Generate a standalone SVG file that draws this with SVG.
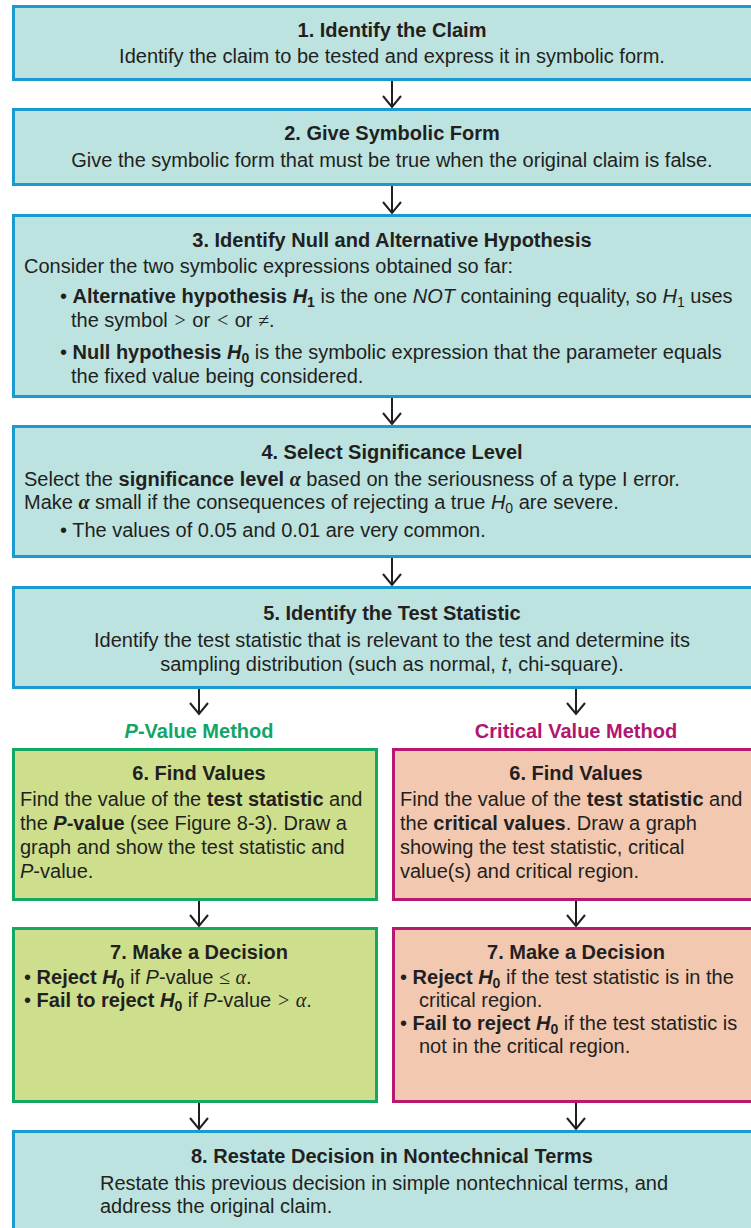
<svg xmlns="http://www.w3.org/2000/svg" width="751" height="1228" viewBox="0 0 751 1228">
<defs>
<style>
text{font-family:"Liberation Sans",Arial,sans-serif;font-size:20px;fill:#231f20}
.t{font-weight:bold;text-anchor:middle}
.c{text-anchor:middle}
.b{font-weight:bold}
.i{font-style:italic}
.bi{font-weight:bold;font-style:italic}
.m{font-family:"Liberation Serif",serif;font-style:italic}
.s{font-size:14px}
.blue{fill:#bce3e0;stroke:#1a9ad1;stroke-width:3}
.green{fill:#cddf8c;stroke:#15a862;stroke-width:3}
.pink{fill:#f2c8b0;stroke:#b8186f;stroke-width:3}
.arr{fill:none;stroke:#231f20;stroke-width:2}
</style>
</defs>
<g id="connectors">
<path class="arr" d="M392 81V107M383 96L392 107L401 96"/>
<path class="arr" d="M392 186V213M383 202L392 213L401 202"/>
<path class="arr" d="M392 398V424M383 413L392 424L401 413"/>
<path class="arr" d="M392 558V585M383 574L392 585L401 574"/>
<path class="arr" d="M199 689V714M190 703L199 714L208 703"/>
<path class="arr" d="M576 689V714M567 703L576 714L585 703"/>
<path class="arr" d="M199 901V926M190 915L199 926L208 915"/>
<path class="arr" d="M576 901V926M567 915L576 926L585 915"/>
<path class="arr" d="M199 1103V1129M190 1118L199 1129L208 1118"/>
<path class="arr" d="M576 1103V1129M567 1118L576 1129L585 1118"/>
</g>
<g id="step1">
<rect class="blue" x="13.5" y="6.5" width="770" height="73"/>
<text class="t" x="392" y="37">1. Identify the Claim</text>
<text class="c" x="392" y="63">Identify the claim to be tested and express it in symbolic form.</text>
</g>
<g id="step2">
<rect class="blue" x="13.5" y="109.5" width="770" height="75"/>
<text class="t" x="392" y="140">2. Give Symbolic Form</text>
<text class="c" x="392" y="167">Give the symbolic form that must be true when the original claim is false.</text>
</g>
<g id="step3">
<rect class="blue" x="13.5" y="215.5" width="770" height="181"/>
<text class="t" x="392" y="247">3. Identify Null and Alternative Hypothesis</text>
<text x="24" y="273">Consider the two symbolic expressions obtained so far:</text>
<text x="60" y="303">• <tspan class="b">Alternative hypothesis </tspan><tspan class="bi">H</tspan><tspan class="b s" dy="4">1</tspan><tspan dy="-4"> is the one </tspan><tspan class="i">NOT</tspan> containing equality, so <tspan class="i">H</tspan><tspan class="s" dy="4">1</tspan><tspan dy="-4"> uses</tspan></text>
<text x="71" y="327">the symbol <tspan class="m">&gt;</tspan> or <tspan class="m">&lt;</tspan> or <tspan class="m">≠</tspan>.</text>
<text x="60" y="359">• <tspan class="b">Null hypothesis </tspan><tspan class="bi">H</tspan><tspan class="b s" dy="4">0</tspan><tspan dy="-4"> is the symbolic expression that the parameter equals</tspan></text>
<text x="71" y="383">the fixed value being considered.</text>
</g>
<g id="step4">
<rect class="blue" x="13.5" y="426.5" width="770" height="130"/>
<text class="t" x="392" y="459">4. Select Significance Level</text>
<text x="24" y="486">Select the <tspan class="b">significance level </tspan><tspan class="m b">α</tspan> based on the seriousness of a type I error.</text>
<text x="24" y="509">Make <tspan class="m b">α</tspan> small if the consequences of rejecting a true <tspan class="i">H</tspan><tspan class="s" dy="4">0</tspan><tspan dy="-4"> are severe.</tspan></text>
<text x="60" y="537">• The values of 0.05 and 0.01 are very common.</text>
</g>
<g id="step5">
<rect class="blue" x="13.5" y="587.5" width="770" height="100"/>
<text class="t" x="392" y="620">5. Identify the Test Statistic</text>
<text class="c" x="392" y="647">Identify the test statistic that is relevant to the test and determine its</text>
<text class="c" x="392" y="671">sampling distribution (such as normal, <tspan class="i">t</tspan>, chi-square).</text>
</g>
<g id="label-pvalue">
<text class="t" x="199" y="738" style="fill:#12a566"><tspan class="bi" style="fill:#12a566">P</tspan>-Value Method</text>
</g>
<g id="label-critical">
<text class="t" x="576" y="738" style="fill:#b3166f">Critical Value Method</text>
</g>
<g id="step6-p">
<rect class="green" x="13.5" y="749.5" width="363" height="150"/>
<text class="t" x="199" y="780">6. Find Values</text>
<text x="20" y="806">Find the value of the <tspan class="b">test statistic</tspan> and</text>
<text x="20" y="830">the <tspan class="bi">P</tspan><tspan class="b">-value</tspan> (see Figure 8-3). Draw a</text>
<text x="20" y="854">graph and show the test statistic and</text>
<text x="20" y="878"><tspan class="i">P</tspan>-value.</text>
</g>
<g id="step6-c">
<rect class="pink" x="393.5" y="749.5" width="380" height="150"/>
<text class="t" x="576" y="780">6. Find Values</text>
<text x="400" y="806">Find the value of the <tspan class="b">test statistic</tspan> and</text>
<text x="400" y="830">the <tspan class="b">critical values</tspan>. Draw a graph</text>
<text x="400" y="854">showing the test statistic, critical</text>
<text x="400" y="878">value(s) and critical region.</text>
</g>
<g id="step7-p">
<rect class="green" x="13.5" y="928.5" width="363" height="173"/>
<text class="t" x="199" y="959">7. Make a Decision</text>
<text x="24" y="984">• <tspan class="b">Reject </tspan><tspan class="bi">H</tspan><tspan class="b s" dy="4">0</tspan><tspan dy="-4"> if </tspan><tspan class="i">P</tspan>-value <tspan class="m">≤</tspan> <tspan class="m">α</tspan>.</text>
<text x="24" y="1007">• <tspan class="b">Fail to reject </tspan><tspan class="bi">H</tspan><tspan class="b s" dy="4">0</tspan><tspan dy="-4"> if </tspan><tspan class="i">P</tspan>-value <tspan class="m">&gt;</tspan> <tspan class="m">α</tspan>.</text>
</g>
<g id="step7-c">
<rect class="pink" x="393.5" y="928.5" width="380" height="173"/>
<text class="t" x="576" y="959">7. Make a Decision</text>
<text x="400" y="984">• <tspan class="b">Reject </tspan><tspan class="bi">H</tspan><tspan class="b s" dy="4">0</tspan><tspan dy="-4"> if the test statistic is in the</tspan></text>
<text x="419" y="1007">critical region.</text>
<text x="400" y="1030">• <tspan class="b">Fail to reject </tspan><tspan class="bi">H</tspan><tspan class="b s" dy="4">0</tspan><tspan dy="-4"> if the test statistic is</tspan></text>
<text x="419" y="1053">not in the critical region.</text>
</g>
<g id="step8">
<rect class="blue" x="13.5" y="1131.5" width="770" height="120"/>
<text class="t" x="392" y="1163">8. Restate Decision in Nontechnical Terms</text>
<text x="100" y="1190">Restate this previous decision in simple nontechnical terms, and</text>
<text x="100" y="1213">address the original claim.</text>
</g>
</svg>
